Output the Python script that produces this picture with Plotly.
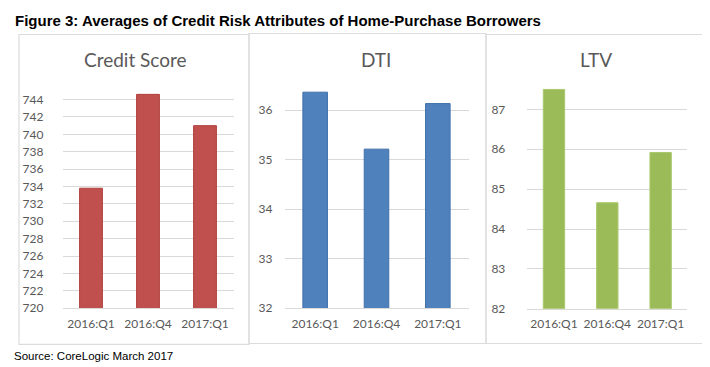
import plotly.graph_objects as go

# ---- data ----
categories = ["2016:Q1", "2016:Q4", "2017:Q1"]
credit_score = [733.8, 744.6, 741.0]
dti = [36.36, 35.21, 36.13]
ltv = [87.5, 84.66, 85.92]

panel_titles = ["Credit Score", "DTI", "LTV"]
fig_title = "Figure 3: Averages of Credit Risk Attributes of Home-Purchase Borrowers"
source_text = "Source: CoreLogic March 2017"

W, H = 710, 367

def px_x(x):
    return x / W

def px_y(y):
    return 1 - y / H

fig = go.Figure()

panels = [
    dict(vals=credit_score, fill="#C0504D", line="#B0403D", x0=54.5, x1=225.5,
         ybot=306.0, ppu=8.86, rng=(720, 745.2), dtick=2, title_x=127, standoff=18),
    dict(vals=dti, fill="#4F81BD", line="#3F6FAA", x0=276.5, x1=460.5,
         ybot=306.0, ppu=50.5, rng=(32, 36.6), dtick=1, title_x=368, standoff=11),
    dict(vals=ltv, fill="#9BBB59", line="#A9C86A", x0=519.3, x1=679.3,
         ybot=306.7, ppu=40.67, rng=(82, 87.7), dtick=1, title_x=588, standoff=21),
]

tick_font = dict(family="Lato, Open Sans, sans-serif", size=12, color="#595959")

for i, p in enumerate(panels):
    n = "" if i == 0 else str(i + 1)
    ytop = p["ybot"] - (p["rng"][1] - p["rng"][0]) * p["ppu"]
    fig.add_trace(go.Bar(
        x=categories, y=p["vals"],
        marker=dict(color=p["fill"], line=dict(color=p["line"], width=1)),
        xaxis="x" + n, yaxis="y" + n, showlegend=False,
    ))
    fig.update_layout(**{
        "xaxis" + n: dict(
            domain=[px_x(p["x0"]), px_x(p["x1"])], anchor="y" + n,
            showgrid=False, showline=True, linecolor="#D9D9D9", linewidth=1,
            ticks="", tickfont=tick_font, ticklabelstandoff=4, fixedrange=True,
        ),
        "yaxis" + n: dict(
            domain=[px_y(p["ybot"]), px_y(ytop)], anchor="x" + n,
            range=list(p["rng"]), dtick=p["dtick"], tick0=p["rng"][0],
            showgrid=True, gridcolor="#D9D9D9", gridwidth=1, zeroline=False,
            showline=False, ticks="", tickfont=tick_font,
            ticklabelstandoff=p["standoff"], fixedrange=True,
        ),
    })
    fig.add_annotation(
        x=px_x(p["title_x"]), y=px_y(53), xref="paper", yref="paper",
        text=panel_titles[i], showarrow=False, xanchor="center", yanchor="middle",
        font=dict(family="Lato, Open Sans, sans-serif", size=19, color="#595959"),
    )

# panel boxes
boxes = [(11, 241, 27, 343), (241, 478, 26, 342), (478, 699, 27, 342)]
for (bx0, bx1, by0, by1) in boxes:
    fig.add_shape(type="rect", xref="paper", yref="paper",
                  x0=px_x(bx0), x1=px_x(bx1), y0=px_y(by1), y1=px_y(by0),
                  line=dict(color="#DCDCDC", width=1.2), fillcolor="rgba(0,0,0,0)", layer="below")

fig.add_annotation(
    x=px_x(5), y=px_y(13), xref="paper", yref="paper", text="<b>" + fig_title + "</b>",
    showarrow=False, xanchor="left", yanchor="middle",
    font=dict(family="Liberation Sans Narrow, Arial Narrow, Liberation Sans, Arial, sans-serif",
              size=15, color="#000000"),
)
fig.add_annotation(
    x=px_x(4), y=px_y(355), xref="paper", yref="paper", text=source_text,
    showarrow=False, xanchor="left", yanchor="middle",
    font=dict(family="Liberation Sans, Arial, sans-serif", size=11.5, color="#000000"),
)

fig.update_layout(
    width=W, height=H, margin=dict(l=0, r=0, t=0, b=0),
    paper_bgcolor="white", plot_bgcolor="white",
    bargap=0.6,
)

fig.write_html("out.html", config={"displayModeBar": False})
